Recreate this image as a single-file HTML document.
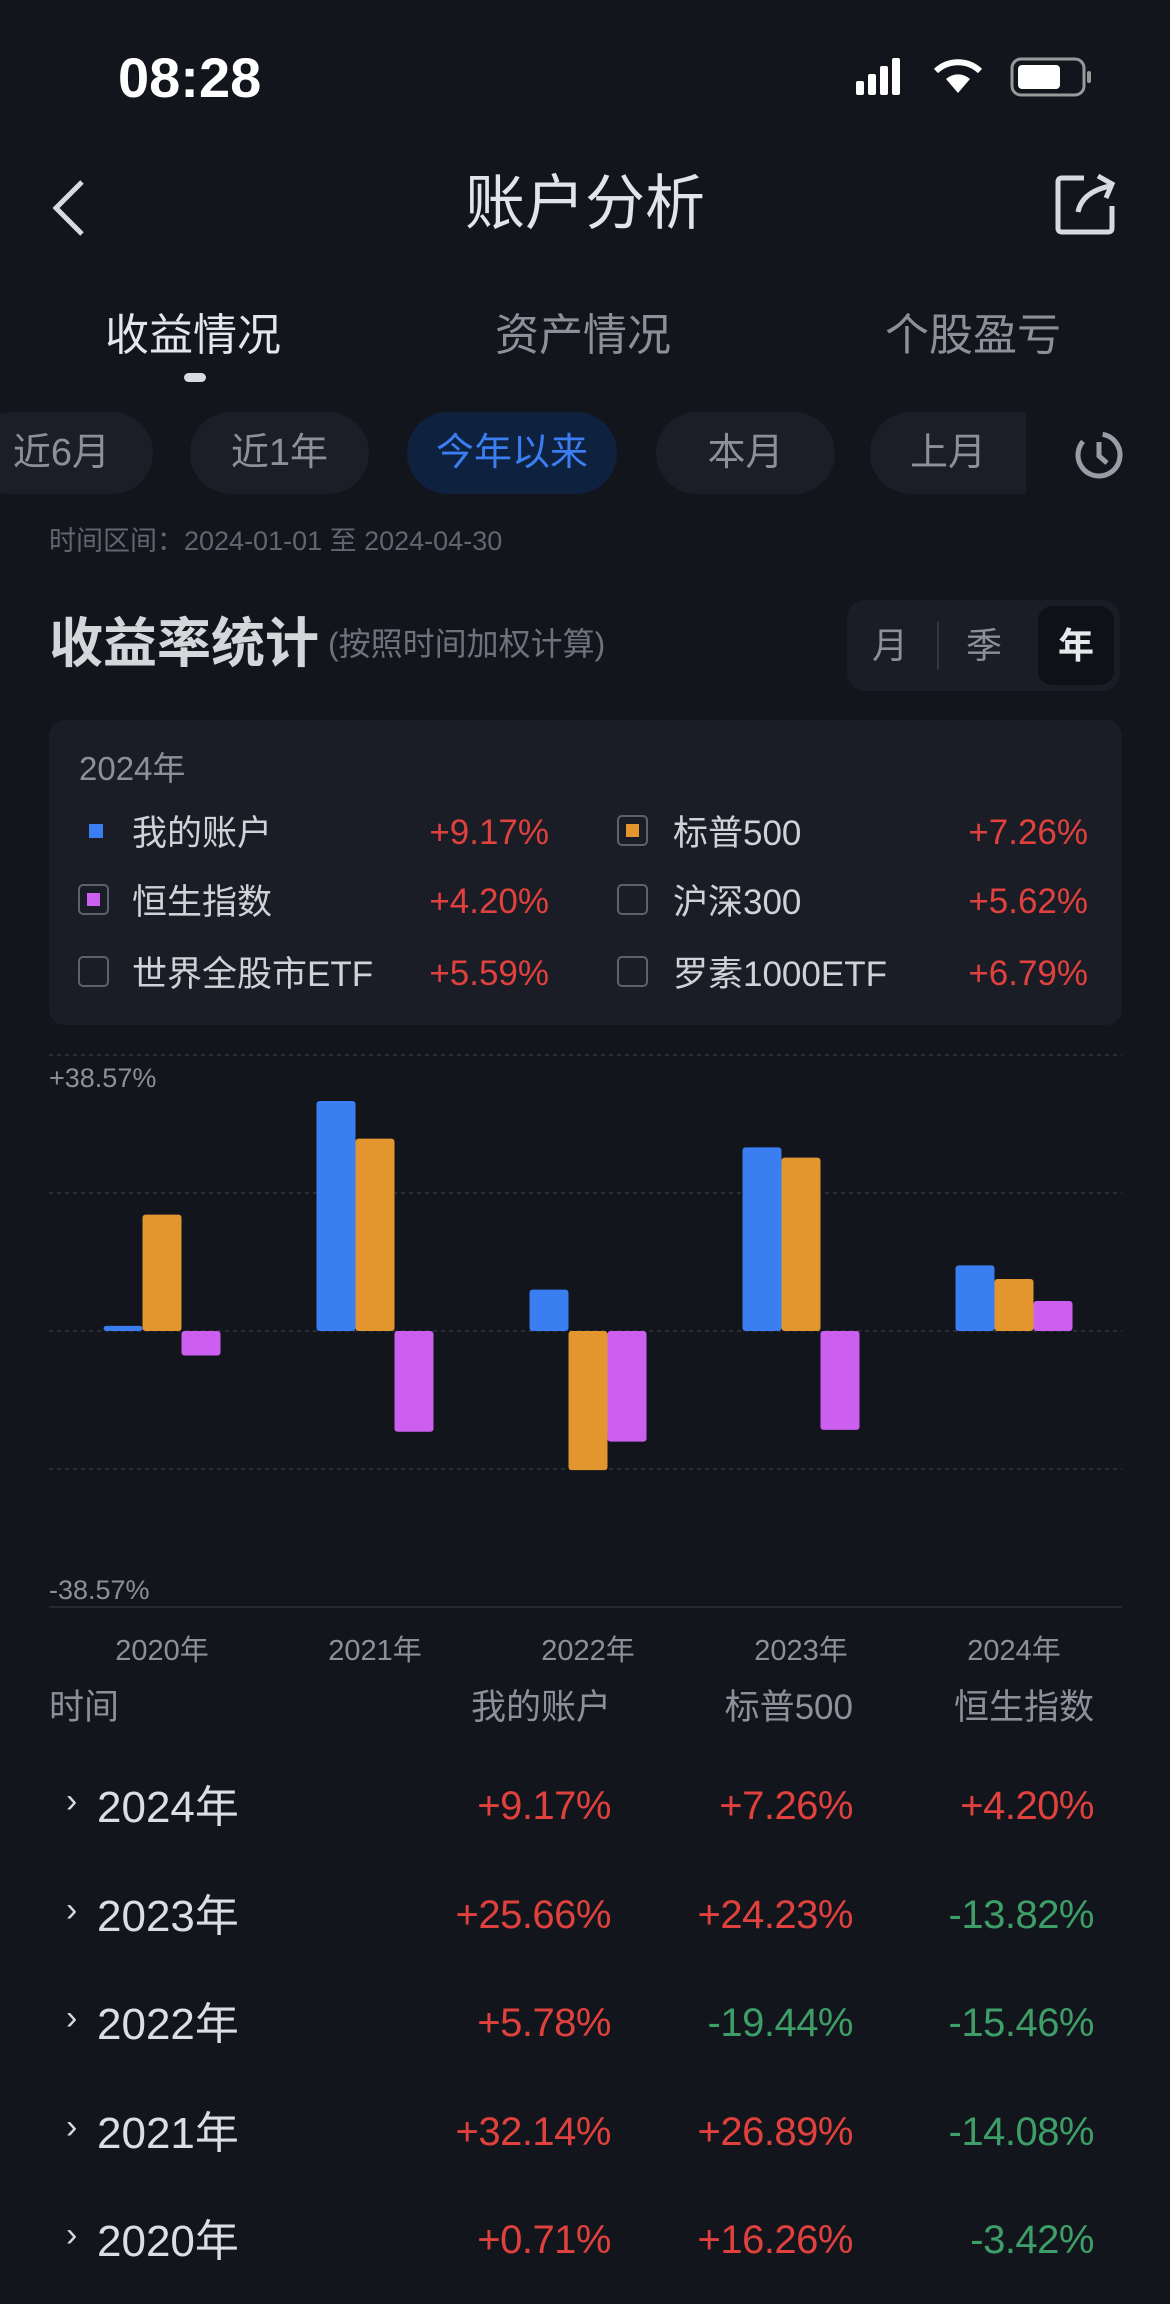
<!DOCTYPE html>
<html><head><meta charset="utf-8">
<style>
html,body{margin:0;padding:0;background:#12151c;}
body{width:1170px;height:2304px;position:relative;overflow:hidden;font-family:"Liberation Sans","Noto Sans CJK SC",sans-serif;color:#d8dadf;}
.a{position:absolute;white-space:nowrap;line-height:1.2;}
.n{font-family:"Liberation Sans Narrow","Liberation Sans","Noto Sans CJK SC",sans-serif;}
.pill{position:absolute;top:412px;height:82px;border-radius:41px;background:#1b1e26;color:#8d9098;font-size:38px;line-height:82px;text-align:center;}
.red{color:#e0413d;}.green{color:#3e9e68;}
.cb{position:absolute;width:31px;height:31px;border:2px solid #5d616b;border-radius:5px;box-sizing:border-box;}
.cb i{position:absolute;left:7px;top:7px;width:13px;height:13px;}
.lg{font-size:35px;color:#d0d2d7;}
.lv{font-size:35px;}
.th{font-size:35px;color:#8d9098;top:1687px;}
.yr{font-size:44px;color:#dcdee2;}
.tv{font-size:40px;text-align:right;letter-spacing:-0.5px;}
</style></head><body>
<div class="a" style="left:118px;top:44px;font-size:56px;font-weight:bold;color:#fff;">08:28</div>
<svg class="a" style="left:850px;top:55px" width="245" height="46">
<rect x="6" y="26" width="8" height="14" rx="2" fill="#fff"/><rect x="18" y="19" width="8" height="21" rx="2" fill="#fff"/><rect x="30" y="11" width="8" height="29" rx="2" fill="#fff"/><rect x="42" y="3" width="8" height="37" rx="2" fill="#fff"/>
<path d="M108 38 L96 24 A18 18 0 0 1 120 24 Z" fill="#fff"/><path d="M86 16 A32 32 0 0 1 130 16" stroke="#fff" stroke-width="6" fill="none"/>
<rect x="162" y="4" width="72" height="36" rx="9" stroke="#999" stroke-width="3" fill="none"/><rect x="168" y="10" width="42" height="24" rx="4" fill="#fff"/><rect x="237" y="16" width="4" height="12" rx="2" fill="#999"/>
</svg>
<svg class="a" style="left:48px;top:178px" width="40" height="60"><path d="M34 4 L8 30 L34 56" stroke="#d8dadf" stroke-width="5" fill="none"/></svg>
<div class="a" style="left:0;width:1170px;text-align:center;top:168px;font-size:60px;color:#e2e4e8;">账户分析</div>
<svg class="a" style="left:1054px;top:172px" width="66" height="66"><path d="M30 6 H8 Q4 6 4 10 V56 Q4 60 8 60 H54 Q58 60 58 56 V34" stroke="#d8dadf" stroke-width="5" fill="none"/><path d="M24 40 Q28 20 56 14 M44 4 L58 12 L52 26" stroke="#d8dadf" stroke-width="5" fill="none"/></svg>
<div class="a" style="left:105px;top:310px;font-size:44px;color:#e4e6ea;">收益情况</div>
<div class="a" style="left:495px;top:310px;font-size:44px;color:#8d9098;">资产情况</div>
<div class="a" style="left:885px;top:310px;font-size:44px;color:#8d9098;">个股盈亏</div>
<div class="a" style="left:184px;top:373px;width:22px;height:9px;border-radius:5px;background:#d8dadf;"></div>
<div class="pill" style="left:-30px;width:183px;">近6月</div>
<div class="pill" style="left:190px;width:179px;">近1年</div>
<div class="pill" style="left:407px;width:210px;background:#0e2240;color:#3b7ef2;">今年以来</div>
<div class="pill" style="left:656px;width:179px;">本月</div>
<div class="pill" style="left:870px;width:156px;border-radius:41px 0 0 41px;">上月</div>
<svg class="a" style="left:1074px;top:430px" width="50" height="50"><circle cx="25" cy="25" r="21" stroke="#9a9da5" stroke-width="5" fill="none" stroke-dasharray="110 22" transform="rotate(-80 25 25)"/><path d="M25 12 V26 L33 33" stroke="#9a9da5" stroke-width="5" fill="none"/></svg>
<div class="a" style="left:49px;top:525px;font-size:27px;color:#62666f;">时间区间：2024-01-01 至 2024-04-30</div>
<div class="a" style="left:49px;top:612px;font-size:54px;font-weight:bold;color:#d4d6da;">收益率统计</div>
<div class="a" style="left:328px;top:625px;font-size:32px;color:#6e727b;">(按照时间加权计算)</div>
<div class="a" style="left:847px;top:600px;width:273px;height:91px;border-radius:18px;background:#1a1d25;"></div>
<div class="a" style="left:872px;top:624px;font-size:36px;color:#8d9098;">月</div>
<div class="a" style="left:937px;top:622px;width:2px;height:48px;background:#33363f;"></div>
<div class="a" style="left:966px;top:624px;font-size:36px;color:#8d9098;">季</div>
<div class="a" style="left:1038px;top:606px;width:76px;height:79px;border-radius:14px;background:#0f1117;color:#e6e8ec;font-size:36px;line-height:79px;text-align:center;font-weight:bold;">年</div>
<div class="a" style="left:49px;top:720px;width:1073px;height:305px;border-radius:16px;background:#1a1d26;"></div>
<div class="a" style="left:79px;top:749px;font-size:33px;color:#8d9098;">2024年</div>
<div class="a" style="left:89px;top:824px;width:14px;height:14px;background:#3b7ef2;"></div>
<div class="a lg" style="left:132px;top:813px;">我的账户</div>
<div class="a lv red" style="right:621px;top:812px;">+9.17%</div>
<div class="cb" style="left:617px;top:815px;"><i style="background:#e3962e"></i></div>
<div class="a lg" style="left:673px;top:813px;">标普500</div>
<div class="a lv red" style="right:82px;top:812px;">+7.26%</div>
<div class="cb" style="left:78px;top:884px;"><i style="background:#cc5ef0"></i></div>
<div class="a lg" style="left:132px;top:882px;">恒生指数</div>
<div class="a lv red" style="right:621px;top:881px;">+4.20%</div>
<div class="cb" style="left:617px;top:884px;"></div>
<div class="a lg" style="left:673px;top:882px;">沪深300</div>
<div class="a lv red" style="right:82px;top:881px;">+5.62%</div>
<div class="cb" style="left:78px;top:956px;"></div>
<div class="a lg" style="left:132px;top:954px;">世界全股市ETF</div>
<div class="a lv red" style="right:621px;top:953px;">+5.59%</div>
<div class="cb" style="left:617px;top:956px;"></div>
<div class="a lg" style="left:673px;top:954px;">罗素1000ETF</div>
<div class="a lv red" style="right:82px;top:953px;">+6.79%</div>

<svg id="chart" class="a" style="left:0;top:0" width="1170" height="1700"></svg>

<div class="a th" style="left:49px;">时间</div>
<div class="a th" style="right:559px;">我的账户</div>
<div class="a th" style="right:317px;">标普500</div>
<div class="a th" style="right:76px;">恒生指数</div>
<div id="table"></div>

<script>
const years = ["2020年","2021年","2022年","2023年","2024年"];
const myAccount = [0.71, 32.14, 5.78, 25.66, 9.17];
const sp500 = [16.26, 26.89, -19.44, 24.23, 7.26];
const hsi = [-3.42, -14.08, -15.46, -13.82, 4.20];
const axisMax = 38.57;
const tickLabels = ["+38.57%", "-38.57%"];

const NS = "http://www.w3.org/2000/svg";
const svg = document.getElementById("chart");
const zeroY = 1331, topY = 1055;
const yScale = v => zeroY - v * (zeroY - topY) / axisMax;
const groupX = i => 162 + i * 213;
const barW = 39;
function mk(tag, attrs){const e=document.createElementNS(NS,tag);for(const k in attrs)e.setAttribute(k,attrs[k]);svg.appendChild(e);return e;}
[axisMax, axisMax/2, 0, -axisMax/2].forEach(v=>{
  const g = mk("line",{x1:49,x2:1122,y1:yScale(v),y2:yScale(v),stroke:"#2a2d35","stroke-width":2,"stroke-dasharray":"4 4"});
  
  
});
const base = mk("line",{x1:49,x2:1122,y1:yScale(-axisMax),y2:yScale(-axisMax),stroke:"#262930","stroke-width":2});


const t1 = mk("text",{x:49,y:yScale(axisMax)+32,fill:"#8d9098","font-size":27,"font-family":"Liberation Sans, sans-serif"});
t1.textContent = tickLabels[0];


const t2 = mk("text",{x:49,y:yScale(-axisMax)-8,fill:"#8d9098","font-size":27,"font-family":"Liberation Sans, sans-serif"});
t2.textContent = tickLabels[1];


const series = [[myAccount,"#3b7ef2",-1,"my-account"],[sp500,"#e3962e",0,"sp500"],[hsi,"#cc5ef0",1,"hsi"]];
years.forEach((yr,i)=>{
  series.forEach(([arr,col,off,nm])=>{
    const v = arr[i];
    const y0 = yScale(Math.max(v,0)), y1 = yScale(Math.min(v,0));
    const h = Math.max(y1-y0, 2);
    const r = mk("rect",{x:groupX(i)+off*barW-barW/2,y:y0,width:barW,height:h,rx:3,fill:col});
    
    
  });
  const lbl = mk("text",{x:groupX(i),y:1660,fill:"#8d9098","font-size":29,"text-anchor":"middle","font-family":"Liberation Sans, Noto Sans CJK SC, sans-serif"});
  lbl.textContent = yr;
  
  
});

const table = document.getElementById("table");
const fmt = v => (v>=0?"+":"") + v.toFixed(2) + "%";
for(let k=0;k<years.length;k++){
  const i = years.length-1-k;
  const top = 1779 + k*108.5;
  const row = document.createElement("div");
  
  
  row.innerHTML = '<div class="a" style="left:66px;top:'+(top+2)+'px;font-size:34px;color:#d8dadf;">›</div>'+
    '<div class="a yr n" style="left:97px;top:'+(top+3)+'px;">'+years[i]+'</div>';
  [[myAccount,559],[sp500,317],[hsi,76]].forEach(([arr,right])=>{
    const d = document.createElement("div");
    d.className = "a tv n " + (arr[i]>=0?"red":"green");
    d.style.right = right+"px"; d.style.top = (top+3)+"px";
    d.textContent = fmt(arr[i]);
    
    
    row.appendChild(d);
  });
  table.appendChild(row);
}
</script>
</body></html>
